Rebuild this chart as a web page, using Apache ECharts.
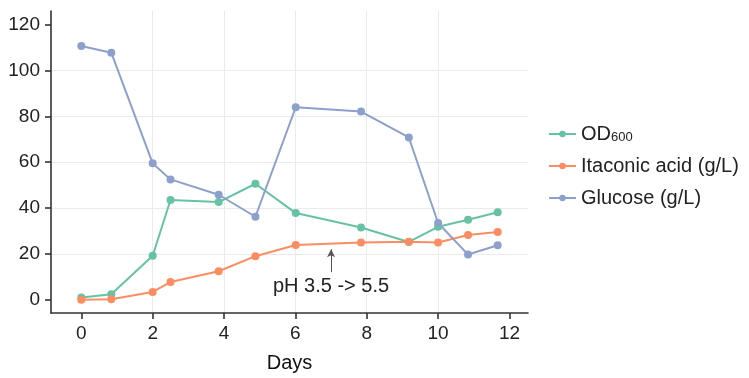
<!DOCTYPE html>
<html>
<head>
<meta charset="utf-8">
<script src="https://cdn.jsdelivr.net/npm/echarts@6/dist/echarts.min.js"></script>
<style>
  html, body { margin: 0; padding: 0; background: #fff; }
  #chart { width: 749px; height: 378px; }
</style>
</head>
<body>
<div id="chart"></div>
<script>
// Sampling times (days)
const days = [0, 0.84, 2.0, 2.5, 3.85, 4.88, 6.01, 7.84, 9.18, 10.0, 10.84, 11.67];
// Measured values at each sampling time
const od600 = [1.0, 2.4, 19.2, 43.5, 42.6, 50.6, 37.8, 31.5, 25.2, 31.8, 34.9, 38.2];
const itaconic = [0, 0.2, 3.4, 7.7, 12.4, 19.0, 23.9, 25.0, 25.3, 25.0, 28.2, 29.5];
const glucose = [110.7, 107.8, 59.5, 52.5, 45.8, 36.2, 84.0, 82.1, 70.8, 33.5, 19.7, 23.8];
// Tick labels
const xTicks = [0, 2, 4, 6, 8, 10, 12];
const yTicks = [0, 20, 40, 60, 80, 100, 120];
// pH shift annotation (day, arrow from/to value)
const phShift = { day: 7, from: 12, to: 22, text: 'pH 3.5 -> 5.5' };

const seriesNames = ['OD600', 'Itaconic acid (g/L)', 'Glucose (g/L)'];
const colors = ['#66C2A5', '#FC8D62', '#8DA0CB'];
const FONT = '"Liberation Sans", Arial, Helvetica, sans-serif';

function pairs(ys) { return days.map((d, i) => [d, ys[i]]); }

function lineSeries(name, ys, color, extra) {
  return Object.assign({
    name: name,
    type: 'line',
    data: pairs(ys),
    symbol: 'circle',
    symbolSize: 8,
    itemStyle: { color: color },
    lineStyle: { color: color, width: 2 },
    emphasis: { disabled: true },
    animation: false
  }, extra || {});
}

const chart = echarts.init(document.getElementById('chart'), null, { renderer: 'canvas' });
const axisDark = '#333333';
const gridColor = '#EBEBEB';

chart.setOption({
  backgroundColor: '#ffffff',
  textStyle: { fontFamily: FONT },
  color: colors,
  grid: { left: 51, right: 221, top: 11, bottom: 60, containLabel: false },
  xAxis: {
    type: 'value',
    min: -0.85,
    max: 12.52,
    interval: 2,
    name: 'Days',
    nameLocation: 'middle',
    nameGap: 40,
    nameTextStyle: { fontSize: 20, color: '#111', fontFamily: FONT },
    axisLine: { show: true, onZero: false, lineStyle: { color: axisDark, width: 1.6 } },
    axisTick: { show: true, length: 6, customValues: xTicks, lineStyle: { color: axisDark, width: 1.6 } },
    axisLabel: { customValues: xTicks, fontSize: 19, color: '#222', margin: 11, fontFamily: FONT },
    splitLine: { show: true, showMinLine: false, showMaxLine: false, lineStyle: { color: gridColor, width: 1 } }
  },
  yAxis: {
    type: 'value',
    min: -5.8,
    max: 126,
    interval: 20,
    axisLine: { show: true, onZero: false, lineStyle: { color: axisDark, width: 1.6 } },
    axisTick: { show: true, length: 6, customValues: yTicks, lineStyle: { color: axisDark, width: 1.6 } },
    axisLabel: { customValues: yTicks, fontSize: 19, color: '#222', margin: 11, fontFamily: FONT },
    splitLine: { show: true, showMinLine: false, showMaxLine: false, lineStyle: { color: gridColor, width: 1 } }
  },
  legend: {
    orient: 'vertical',
    left: 543,
    top: 117,
    itemGap: 12,
    itemWidth: 27,
    itemHeight: 8,
    selectedMode: false,
    data: seriesNames,
    formatter: function (name) {
      return name === 'OD600' ? 'OD{sub|600}' : name;
    },
    textStyle: {
      fontSize: 20,
      color: '#222',
      fontFamily: FONT,
      lineHeight: 20,
      rich: {
        sub: { fontSize: 13, verticalAlign: 'bottom', lineHeight: 20, padding: [9, 0, 0, 0], fontFamily: FONT, color: '#222' }
      }
    }
  },
  series: [
    lineSeries(seriesNames[0], od600, colors[0]),
    lineSeries(seriesNames[1], itaconic, colors[1], {
      markLine: {
        silent: true,
        animation: false,
        symbol: ['none', 'arrow'],
        symbolSize: [6, 8],
        lineStyle: { color: '#555', width: 1, type: 'solid' },
        label: {
          show: true,
          position: 'start',
          distance: 4,
          formatter: phShift.text,
          fontSize: 20,
          color: '#222',
          fontFamily: FONT
        },
        data: [[
          { coord: [phShift.day, phShift.from] },
          { coord: [phShift.day, phShift.to] }
        ]]
      }
    }),
    lineSeries(seriesNames[2], glucose, colors[2])
  ]
});
</script>
</body>
</html>
